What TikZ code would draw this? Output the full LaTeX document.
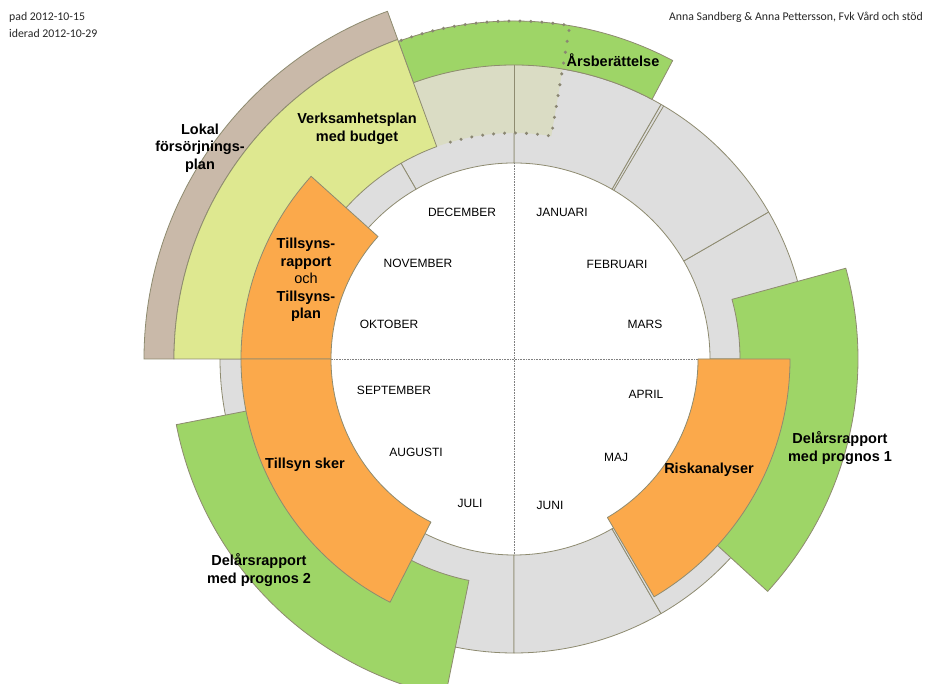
\documentclass[tikz,border=0pt]{standalone}
\usepackage{fontspec}
\setmainfont{Liberation Sans}
\newfontfamily\hdrfont{Carlito}
\definecolor{ringgrey}{HTML}{DEDEDE}
\definecolor{edgec}{HTML}{8E8B70}
\definecolor{dotc}{HTML}{8A8672}
\definecolor{grn}{HTML}{9ED567}
\definecolor{orng}{HTML}{FBA94B}
\definecolor{lightyg}{HTML}{DEE890}
\definecolor{lokalc}{HTML}{C9B9A9}
\definecolor{tanov}{HTML}{DADCC4}
\newcommand{\annsec}[5]{\path[#5] (#1:#3pt) arc[start angle=#1, end angle=#2, radius=#3pt] -- (#2:#4pt) arc[start angle=#2, end angle=#1, radius=#4pt] -- cycle;}
\begin{document}
\begin{tikzpicture}[x=1pt,y=1pt,
  seg/.style={draw=edgec, line width=0.8pt, line join=round},
  mlabel/.style={font=\fontsize{12}{14}\selectfont, text=black, inner sep=0pt},
  blabel/.style={font=\fontsize{14.5}{17.5}\selectfont\bfseries, align=center, text=black, inner sep=0pt},
  hdr/.style={font=\hdrfont\fontsize{11.8}{14}\selectfont, text=black!85, inner sep=0pt}]
\useasboundingbox (0,0) rectangle (931,684);
\fill[white] (0,0) rectangle (931,684);
\begin{scope}[shift={(514,325)}]
  % grey month ring
  \foreach \a [evaluate=\a as \b using \a+30] in {0,30,...,330}
    {\annsec{\a}{\b}{196}{294}{seg, fill=ringgrey}}
  \draw[edgec, line width=0.8pt] (59.4:196pt) -- (59.4:294pt);
  % translucent overlay part inside ring
  \annsec{80.5}{110}{226}{294}{fill=tanov}
  \draw[edgec, line width=0.8pt] (90:226pt) -- (90:294pt);
  % Aarsberaettelse
  \annsec{62}{110}{294}{338}{seg, fill=grn}
  % Lokal foersoerjningsplan
  \annsec{110}{180}{340}{370}{seg, fill=lokalc}
  % Verksamhetsplan
  \annsec{110}{180}{226}{340}{seg, fill=lightyg}
  % Delaarsrapport 2
  \annsec{191}{258.5}{226}{344}{seg, fill=grn}
  % Delaarsrapport 1
  \annsec{-42.5}{15.3}{226}{344}{seg, fill=grn}
  % dotted quadrant lines
  \draw[gray, densely dotted, line width=0.6pt] (90:196pt) -- (-90:196pt);
  \draw[gray, densely dotted, line width=0.6pt] (180:196pt) -- (0:196pt);
  % orange blocks
  \annsec{138}{180}{183}{273}{seg, fill=orng}
  \annsec{180}{243}{183}{273}{seg, fill=orng}
  \annsec{-59.5}{0}{184}{276}{seg, fill=orng}
  % dotted outline
  \draw[dotc, line width=3.4pt, line cap=round, dash pattern=on 0pt off 11pt]
    (109.5:338pt) arc[start angle=109.5, end angle=80.5, radius=338pt]
    -- (80.5:226pt) arc[start angle=80.5, end angle=108, radius=226pt];
\end{scope}
% headers
\node[hdr, anchor=west] (h1) at (9,667) {pad 2012-10-15};
\node[hdr, anchor=west] (h2) at (9,651) {iderad 2012-10-29};
\node[hdr, anchor=east] (h3) at (923,667) {Anna Sandberg \& Anna Pettersson, Fvk Vård och stöd};
% months
\node[mlabel] (dec) at (462,472) {DECEMBER};
\node[mlabel] (jan) at (562,472) {JANUARI};
\node[mlabel] (nov) at (418,421) {NOVEMBER};
\node[mlabel] (feb) at (617,420) {FEBRUARI};
\node[mlabel] (okt) at (389,360) {OKTOBER};
\node[mlabel] (mar) at (645,360) {MARS};
\node[mlabel] (sep) at (394,294) {SEPTEMBER};
\node[mlabel] (apr) at (646,290) {APRIL};
\node[mlabel] (aug) at (416,232) {AUGUSTI};
\node[mlabel] (maj) at (616,227) {MAJ};
\node[mlabel] (jul) at (470,181) {JULI};
\node[mlabel] (jun) at (550,179) {JUNI};
% activity labels
\node[blabel] (lokal) at (200,536) {Lokal\\försörjnings-\\plan};
\node[blabel] (verks) at (357,555) {Verksamhetsplan\\med budget};
\node[blabel] (tillr) at (306,404) {Tillsyns-\\rapport\\{\mdseries och}\\Tillsyns-\\plan};
\node[blabel] (tills) at (305,219) {Tillsyn sker};
\node[blabel] (del2) at (259,114) {Delårsrapport\\med prognos 2};
\node[blabel] (risk) at (709,214) {Riskanalyser};
\node[blabel] (del1) at (840,236) {Delårsrapport\\med prognos 1};
\node[blabel] (ars) at (613,624) {Årsberättelse};
\end{tikzpicture}
\end{document}
